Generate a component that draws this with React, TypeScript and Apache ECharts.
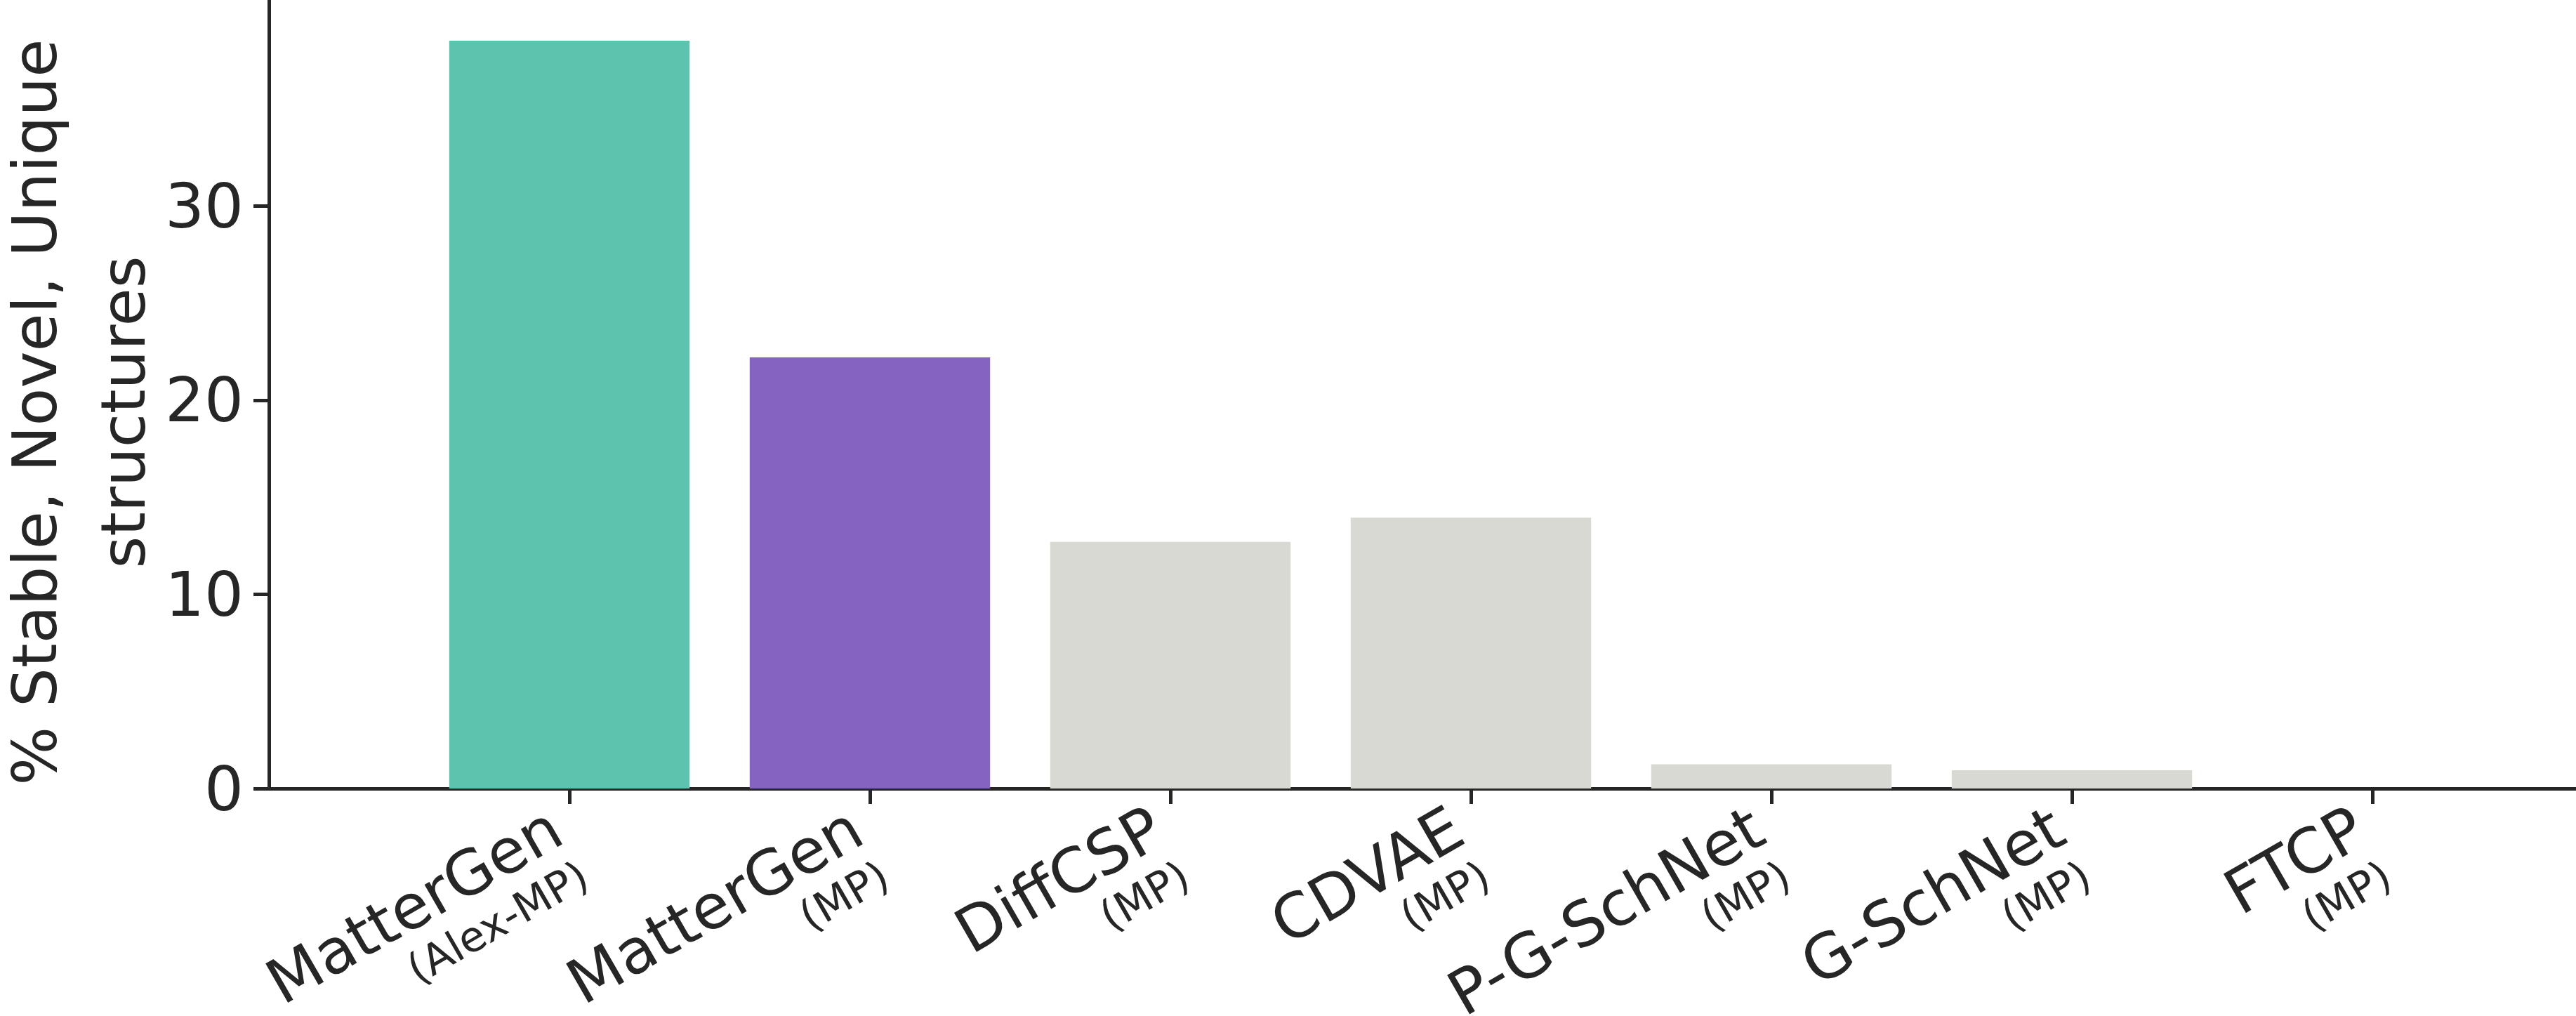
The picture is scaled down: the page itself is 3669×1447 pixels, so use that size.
import { useEffect, useRef } from "react";
import * as echarts from "echarts";

// blank slots at both ends keep the matplotlib-style x limits (-1 .. 7)
const categories = ["", "MatterGen", "MatterGen", "DiffCSP", "CDVAE", "P-G-SchNet", "G-SchNet", "FTCP", ""];
const subLabels = ["", "(Alex-MP)", "(MP)", "(MP)", "(MP)", "(MP)", "(MP)", "(MP)", ""];
const values = [null, 38.5, 22.2, 12.7, 13.95, 1.25, 0.94, 0, null];
const barColors = ["", "#5dc3af", "#8563c1", "#d9d9d4", "#d9d9d4", "#d9d9d4", "#d9d9d4", "#d9d9d4", ""];
const yTicks = [0, 10, 20, 30];
const yLabel = "% Stable, Novel, Unique\nstructures";

const INK = "#262626";
const FONT = "DejaVu Sans";

export default function App() {
  const chartRef = useRef<HTMLDivElement | null>(null);

  useEffect(() => {
    if (!chartRef.current) {
      return;
    }

    const chart = echarts.init(chartRef.current, null, { renderer: "svg" });
    chart.setOption({
      animation: false,
      backgroundColor: "#ffffff",
      textStyle: { fontFamily: FONT },
      grid: {
        left: 383,
        top: 0,
        width: 3424,
        height: 1123,
        containLabel: false,
        outerBoundsMode: "none",
      },
      xAxis: {
        type: "category",
        data: categories,
        boundaryGap: false,
        axisLine: { lineStyle: { color: INK, width: 5 } },
        axisTick: {
          interval: (index: number) => index >= 1 && index <= 7,
          length: 22,
          lineStyle: { color: INK, width: 5 },
        },
        axisLabel: {
          interval: 0,
          rotate: 30,
          margin: 82,
          color: INK,
          formatter: (value: string, index: number) =>
            value ? `{a|${value}}\n{b|${subLabels[index]}}` : "",
          rich: {
            a: { fontSize: 88, lineHeight: 85, color: INK, fontFamily: FONT },
            b: { fontSize: 60, lineHeight: 76, color: INK, fontFamily: FONT },
          },
        },
        splitLine: { show: false },
      },
      yAxis: {
        type: "value",
        min: 0,
        max: 40.6,
        interval: 10,
        axisLine: { show: true, lineStyle: { color: INK, width: 5 } },
        axisTick: {
          show: true,
          length: 22,
          customValues: yTicks,
          lineStyle: { color: INK, width: 5 },
        },
        axisLabel: {
          customValues: yTicks,
          fontSize: 88,
          margin: 36,
          color: INK,
          fontFamily: FONT,
        },
        splitLine: { show: false },
      },
      graphic: [
        {
          type: "text",
          x: 112,
          y: 587,
          rotation: Math.PI / 2,
          style: {
            text: yLabel,
            fontSize: 88,
            fontFamily: FONT,
            lineHeight: 126,
            fill: INK,
            align: "center",
            verticalAlign: "middle",
          },
        },
      ],
      series: [
        {
          type: "bar",
          barWidth: "80%",
          silent: true,
          data: values.map((v, i) => ({
            value: v,
            itemStyle: { color: barColors[i] || "#d9d9d4" },
          })),
        },
      ],
    });

    const handleResize = () => chart.resize();
    window.addEventListener("resize", handleResize);

    return () => {
      window.removeEventListener("resize", handleResize);
      chart.dispose();
    };
  }, []);

  return (
    <div
      ref={chartRef}
      style={{
        position: "fixed",
        left: 0,
        top: 0,
        width: 3669,
        height: 1447,
        overflow: "hidden",
        background: "#ffffff",
      }}
    />
  );
}
